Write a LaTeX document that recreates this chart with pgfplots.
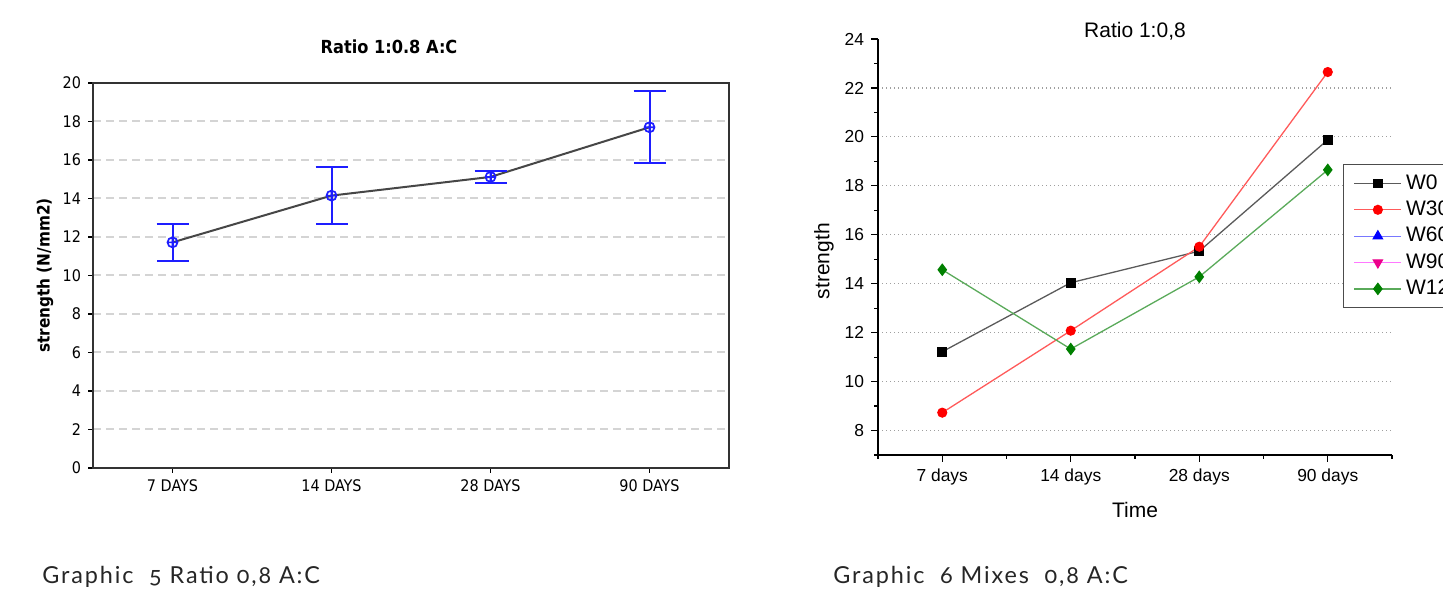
\documentclass[border=0pt]{standalone}
\usepackage{fontspec}
\usepackage{pgfplots}
\pgfplotsset{compat=1.18}
\setmainfont{Liberation Sans}
\newfontfamily\lfont{DejaVu Sans Condensed}
\newfontfamily\rfont{Liberation Sans}
\newfontfamily\capfont[Numbers=OldStyle, LetterSpace=8]{Lato}

\definecolor{errblue}{RGB}{30,30,255}
\definecolor{linegray}{RGB}{70,70,70}
\definecolor{gridgray}{RGB}{212,212,212}
\definecolor{w0line}{RGB}{90,90,90}
\definecolor{w30line}{RGB}{255,90,90}
\definecolor{w60line}{RGB}{120,120,255}
\definecolor{w90line}{RGB}{255,120,255}
\definecolor{w120line}{RGB}{90,170,90}
\definecolor{w120mark}{RGB}{0,128,0}

\begin{document}
\begin{tikzpicture}
\path[use as bounding box, clip] (0,0) rectangle (721.5pt,296pt);

% left: mean strength with error bars
\begin{axis}[
  at={(46.5pt,62pt)}, anchor=south west,
  scale only axis, width=318pt, height=192.5pt,
  xmin=0.5, xmax=4.5, ymin=0, ymax=20,
  xtick={1,2,3,4},
  xticklabels={7 DAYS,14 DAYS,28 DAYS,90 DAYS},
  ytick={0,2,...,20},
  xtick pos=bottom, ytick pos=left,
  tick align=outside, major tick length=2.5pt,
  tick style={black, line width=0.6pt},
  axis line style={black!80, line width=0.75pt},
  ymajorgrids,
  grid style={gridgray, line width=1pt, dash pattern=on 4pt off 2.5pt},
  tick label style={font=\lfont\fontsize{8}{9.6}\selectfont},
  /pgf/number format/assume math mode=true,
  title={Ratio 1:0.8 A:C},
  title style={font=\lfont\bfseries\fontsize{9}{11}\selectfont,
    at={(0.5,1)}, anchor=base, yshift=8.75pt, xshift=-11pt},
  ylabel={strength (N/mm2)},
  ylabel style={font=\lfont\bfseries\fontsize{8.5}{10}\selectfont,
    at={(axis description cs:-0.0755,0.5)}, anchor=center},
  clip=false,
]
\addplot[linegray, line width=1pt,
  mark=oplus, mark size=2.5pt, mark options={draw=errblue, line width=0.85pt},
  error bars/.cd, y dir=both, y explicit,
  error bar style={draw=errblue, line width=1pt},
  error mark options={rotate=90, draw=errblue, mark size=8pt, line width=1pt}]
coordinates {
  (1,11.72) +- (0,0.95)
  (2,14.15) +- (0,1.50)
  (3,15.12) +- (0,0.32)
  (4,17.70) +- (0,1.87)
};
\end{axis}

% right: mixes
\begin{axis}[
  at={(439pt,68.5pt)}, anchor=south west,
  scale only axis, width=257pt, height=208pt,
  xmin=0.5, xmax=4.5, ymin=7, ymax=24,
  axis lines*=left,
  axis line style={black, line width=0.75pt},
  xtick={1,2,3,4},
  xticklabels={7 days,14 days,28 days,90 days},
  minor xtick={0.5,1.5,2.5,3.5,4.5},
  ytick={8,10,...,22},
  extra y ticks={24}, extra y tick style={grid=none},
  minor ytick={7,9,...,23},
  tick align=outside, major tick length=3.5pt, minor tick length=2pt,
  tick style={black, line width=0.6pt},
  ymajorgrids,
  grid style={gray!75, line width=0.6pt, dash pattern=on 0.6pt off 1.4pt},
  tick label style={font=\rfont\fontsize{8.7}{10}\selectfont},
  /pgf/number format/assume math mode=true,
  title={Ratio 1:0,8},
  title style={font=\rfont\fontsize{10.5}{12}\selectfont,
    at={(0.5,1)}, anchor=base, yshift=-5.5pt},
  xlabel={Time},
  xlabel style={font=\rfont\fontsize{10.5}{12}\selectfont,
    at={(axis description cs:0.5,-0.132)}, anchor=center},
  ylabel={strength},
  ylabel style={font=\rfont\fontsize{10.5}{12}\selectfont,
    at={(axis description cs:-0.105,0.466)}, anchor=center},
  legend style={at={(axis description cs:0.9047,0.6995)}, anchor=north west,
    draw=black!70, line width=0.6pt, fill=white,
    font=\rfont\fontsize{10.5}{12}\selectfont,
    inner xsep=5pt, inner ysep=3pt, row sep=0.35pt,
    /tikz/every even column/.append style={column sep=2.5pt}},
  legend cell align=left,
  legend image code/.code={
    \draw[mark repeat=2, mark phase=2, #1]
      plot coordinates {(0pt,0pt) (11.8pt,0pt) (23.6pt,0pt)};},
  clip=false,
]
\addplot[w0line, line width=0.65pt, mark=square*, mark size=2.1pt,
  mark options={black, fill=black}]
coordinates {(1,11.22) (2,14.04) (3,15.33) (4,19.88)};
\addlegendentry{W0}
\addplot[w30line, line width=0.65pt, mark=*, mark size=2.2pt,
  mark options={red, fill=red}]
coordinates {(1,8.73) (2,12.08) (3,15.51) (4,22.65)};
\addlegendentry{W30}
\addlegendimage{w60line, line width=0.65pt, mark=triangle*, mark size=2.6pt,
  mark options={blue, fill=blue}}
\addlegendentry{W60}
\addlegendimage{w90line, line width=0.65pt, mark=triangle*, mark size=2.6pt,
  mark options={magenta, fill=magenta, rotate=180}}
\addlegendentry{W90}
\addplot[w120line, line width=0.65pt, mark=diamond*, mark size=2.7pt,
  mark options={w120mark, fill=w120mark}]
coordinates {(1,14.57) (2,11.33) (3,14.28) (4,18.65)};
\addlegendentry{W120}
\end{axis}

\node[anchor=base west, inner sep=0pt, text=black!85,
  font=\capfont\fontsize{11.7}{14}\selectfont]
  at (21pt,4.35pt) {Graphic\ \ 5 Ratio 0,8 A:C};
\node[anchor=base west, inner sep=0pt, text=black!85,
  font=\capfont\fontsize{11.7}{14}\selectfont]
  at (416.5pt,4.35pt) {Graphic\ \ 6 Mixes\ \ 0,8 A:C};
\end{tikzpicture}
\end{document}
